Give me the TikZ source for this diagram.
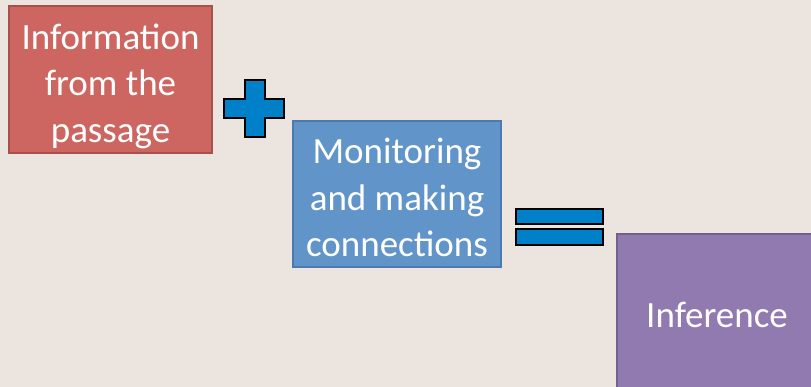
\documentclass[tikz,border=0pt]{standalone}
\usepackage{fontspec}
\setmainfont{Carlito}

\definecolor{slidebg}{HTML}{ECE5DF}
\definecolor{redfill}{HTML}{CD6660}
\definecolor{reddraw}{HTML}{A8504B}
\definecolor{bluefill}{HTML}{6195C9}
\definecolor{bluedraw}{HTML}{4B7AAE}
\definecolor{purplefill}{HTML}{917AB0}
\definecolor{purpledraw}{HTML}{72608F}
\definecolor{signfill}{HTML}{0080C8}

% lines of a box, set a little low as on the slide
\newcommand{\boxlines}[2]{\raisebox{-#1}[\height][\depth]{\begin{tabular}{@{}c@{}}#2\end{tabular}}}

\tikzset{
    box/.style={line width=1.5pt, text=white,
        font=\fontsize{37}{46.5}\selectfont, inner sep=0pt},
    sign/.style={fill=signfill, draw=black, line width=2.5pt}
}

\begin{document}
\begin{tikzpicture}[x=1pt,y=-1pt]
    \fill[slidebg] (0,0) rectangle (811,387);
    \useasboundingbox (0,0) rectangle (811,387);
    \begin{scope}
        \clip (0,0) rectangle (811,387);
        \node[box, fill=redfill, draw=reddraw, minimum width=203pt, minimum height=147pt]
            (info) at (110.5,79.5) {\boxlines{7pt}{Information\\from the\\passage}};
        \node[box, fill=bluefill, draw=bluedraw, minimum width=208pt, minimum height=146pt]
            (monitor) at (397,194) {\boxlines{7pt}{Monitoring\\and making\\connections}};
        \node[box, fill=purplefill, draw=purpledraw, minimum width=200pt, minimum height=168pt]
            (infer) at (717,318) {\boxlines{0pt}{Inference}};
    \end{scope}
    % plus
    \draw[sign] (245,80) -- (265,80) -- (265,99) -- (284,99) -- (284,118) -- (265,118)
        -- (265,137) -- (245,137) -- (245,118) -- (224,118) -- (224,99) -- (245,99) -- cycle;
    % equals
    \draw[sign] (516,209) rectangle (603,224);
    \draw[sign] (516,229) rectangle (603,245);
\end{tikzpicture}
\end{document}
